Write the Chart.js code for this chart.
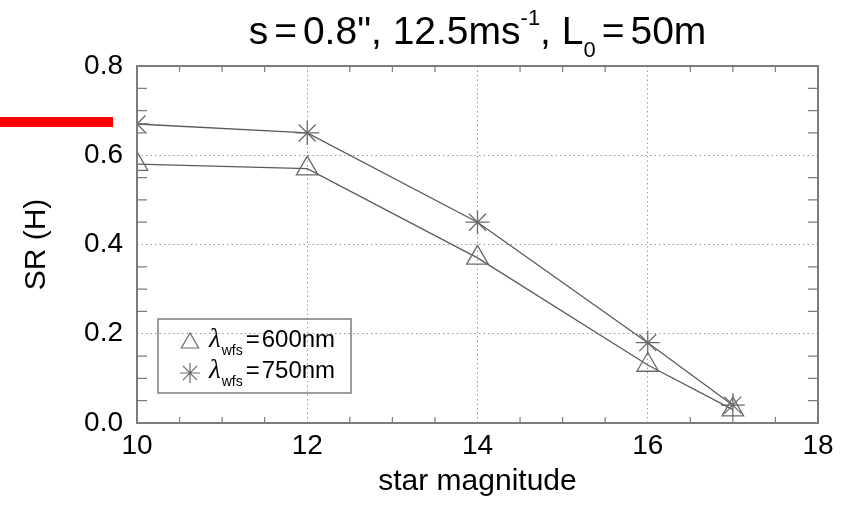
<!DOCTYPE html>
<html>
<head>
	<meta http-equiv="Content-Type" content="text/html; charset=utf-8"/>
	<title>SR (H) vs star magnitude</title>
	<script src="https://cdn.jsdelivr.net/npm/chart.js"></script>
	<style type="text/css">
		body{margin:0;background:#fff;}
		#box{position:relative;width:852px;height:525px;}
		#mark{position:absolute;left:0;top:117px;width:113px;height:10px;background:#ff0000;}
	</style>
</head>
<body>
	<div id="box"><canvas id="sr"></canvas><div id="mark"></div></div>
	<script>
	// values
	let Mag=[10,12,14,16,17];
	let SR600=[0.58,0.57,0.37,0.13,0.03];
	let SR750=[0.67,0.65,0.45,0.18,0.04];
	let XTicks=[10,12,14,16,18];
	let YTicks=[0.0,0.2,0.4,0.6,0.8];
	let Names=["600nm","750nm"];

	const FONT='"Liberation Sans", Arial, Helvetica, sans-serif';
	const LINE='#5a5a5a', MARK='#6a6a6a', FRAME='#7c7c7c';

	function pts(ys){ return Mag.map(function(x,i){ return {x:x,y:ys[i]}; }); }

	// draws text pieces [text, font, dy, gap] starting at x
	function pieces(ctx,parts,x,y){
		parts.forEach(function(p){
			ctx.font=p[1];
			x+=p[3];
			ctx.fillText(p[0],x,y+p[2]);
			x+=ctx.measureText(p[0]).width+p[3];
		});
		return x;
	}
	function piecesWidth(ctx,parts){
		let w=0;
		parts.forEach(function(p){ ctx.font=p[1]; w+=ctx.measureText(p[0]).width+2*p[3]; });
		return w;
	}

	// frame with minor ticks on all four sides, legend and title
	const decor={
		id:'decor',
		afterDatasetsDraw:function(chart){
			const ctx=chart.ctx, a=chart.chartArea, sx=chart.scales.x, sy=chart.scales.y;
			ctx.save();
			ctx.strokeStyle=FRAME;
			ctx.lineWidth=1.2;
			ctx.beginPath();
			for(let v=XTicks[0]+0.5; v<XTicks[XTicks.length-1]; v+=0.5){
				if(XTicks.indexOf(v)>=0) continue;
				const px=sx.getPixelForValue(v);
				ctx.moveTo(px,a.bottom); ctx.lineTo(px,a.bottom-6);
				ctx.moveTo(px,a.top); ctx.lineTo(px,a.top+6);
			}
			for(let k=1;k<16;k++){
				if(k%4===0) continue;
				const py=sy.getPixelForValue(k*0.05);
				ctx.moveTo(a.left,py); ctx.lineTo(a.left+10,py);
				ctx.moveTo(a.right,py); ctx.lineTo(a.right-10,py);
			}
			ctx.stroke();
			ctx.lineWidth=2;
			ctx.strokeRect(a.left,a.top,a.right-a.left,a.bottom-a.top);
			ctx.restore();
		},
		afterDraw:function(chart){
			const ctx=chart.ctx, a=chart.chartArea;
			ctx.save();
			ctx.textBaseline='alphabetic';
			// legend
			const lx=a.left+21, ly=a.top+253;
			ctx.strokeStyle=FRAME; ctx.lineWidth=1.5;
			ctx.strokeRect(lx,ly,193,74);
			const styles=['triangle','star'];
			for(let i=0;i<2;i++){
				const cy=ly+24+i*30;
				ctx.strokeStyle=MARK; ctx.fillStyle='rgba(0,0,0,0)'; ctx.lineWidth=1.2;
				Chart.helpers.drawPoint(ctx,{pointStyle:styles[i],radius:10,rotation:0,borderWidth:1.2},lx+32,cy);
				ctx.fillStyle='#000';
				const base=ly+28+i*31;
				pieces(ctx,[
					['\u03bb','italic 27px "Liberation Serif", serif',0,0],
					['wfs','14px '+FONT,8,1],
					['=','24px '+FONT,0,2],
					[Names[i],'24px '+FONT,0,0]
				],lx+51,base);
			}
			// title with super/subscripts
			const big='39px '+FONT, small='22px '+FONT;
			const parts=[['s',big,0,0],['=',big,0,6],['0.8", 12.5ms',big,0,0],['-1',small,-19,0],[', L',big,0,0],['0',small,13,0],['=',big,0,6],['50m',big,0,0]];
			ctx.fillStyle='#000';
			pieces(ctx,parts,(a.left+a.right)/2-piecesWidth(ctx,parts)/2,44);
			ctx.restore();
		}
	};

	new Chart(document.getElementById('sr'),{
		type:'line',
		data:{
			datasets:[{
				label:'600nm',
				data:pts(SR600),
				borderColor:LINE,
				borderWidth:1.3,
				pointStyle:'triangle',
				pointRadius:12.5,
				pointBorderColor:MARK,
				pointBackgroundColor:'rgba(255,255,255,0)',
				pointBorderWidth:1.3,
				tension:0
			},{
				label:'750nm',
				data:pts(SR750),
				borderColor:LINE,
				borderWidth:1.3,
				pointStyle:'star',
				pointRadius:12,
				pointBorderColor:MARK,
				pointBorderWidth:1.3,
				tension:0
			}]
		},
		options:{
			responsive:true,
			maintainAspectRatio:false,
			animation:false,
			layout:{padding:{top:66,right:34,left:0,bottom:0}},
			plugins:{legend:{display:false},tooltip:{enabled:false},title:{display:false}},
			scales:{
				x:{
					type:'linear',min:10,max:18,
					afterFit:function(s){ s.height=102; },
					afterBuildTicks:function(s){ s.ticks=XTicks.map(function(v){return {value:v};}); },
					ticks:{font:{family:FONT,size:28},color:'#000',padding:6,maxRotation:0},
					grid:{drawTicks:false,lineWidth:1,color:function(c){ return (c.tick && (c.tick.value===10||c.tick.value===18))?'rgba(0,0,0,0)':'#9a9a9a'; }},
					border:{display:false,dash:[1.5,3]},
					title:{display:true,text:'star magnitude',font:{family:FONT,size:30},color:'#000',padding:{top:0,bottom:25}}
				},
				y:{
					type:'linear',min:0,max:0.8,
					afterFit:function(s){ s.width=137; },
					afterBuildTicks:function(s){ s.ticks=YTicks.map(function(v){return {value:v};}); },
					ticks:{font:{family:FONT,size:28},color:'#000',padding:14,callback:function(v){ return Number(v).toFixed(1); }},
					grid:{drawTicks:false,lineWidth:1,color:function(c){ return (c.tick && (c.tick.value===0||c.tick.value===0.8))?'rgba(0,0,0,0)':'#9a9a9a'; }},
					border:{display:false,dash:[1.5,3]},
					title:{display:true,text:'SR (H)',font:{family:FONT,size:30},color:'#000',padding:{top:19,bottom:0}}
				}
			}
		},
		plugins:[decor]
	});
	</script>
</body>
</html>
